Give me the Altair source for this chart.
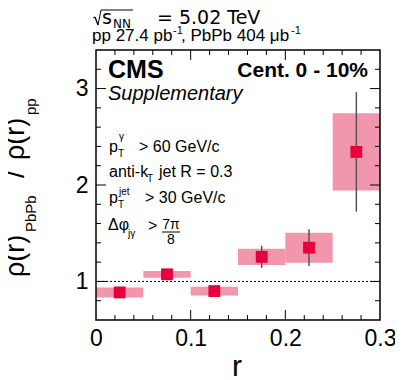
import altair as alt
import pandas as pd

# ---- data ----
r_low = [0.00, 0.05, 0.10, 0.15, 0.20, 0.25]
r_high = [0.05, 0.10, 0.15, 0.20, 0.25, 0.30]
r_center = [0.025, 0.075, 0.125, 0.175, 0.225, 0.275]
ratio = [0.886, 1.074, 0.900, 1.255, 1.350, 2.343]
stat_err = [0.015, 0.015, 0.015, 0.115, 0.190, 0.620]
sys_err = [0.052, 0.035, 0.045, 0.085, 0.155, 0.400]

x_tick_labels = [0.0, 0.1, 0.2, 0.3]
x_major = [0.1, 0.2]
x_minor = [0.02, 0.04, 0.06, 0.08, 0.12, 0.14, 0.16, 0.18, 0.22, 0.24, 0.26, 0.28]
y_major = [1, 2, 3]
y_minor = [0.8, 1.2, 1.4, 1.6, 1.8, 2.2, 2.4, 2.6, 2.8, 3.2]

W, H = 284, 270
OX, OY = 96, 50  # page position of plot origin
FONT = "Liberation Sans"
WIDE = "DejaVu Sans"
PINK = "#f296ae"
RED = "#e6003c"

df = pd.DataFrame({"lo": r_low, "hi": r_high, "r": r_center, "ratio": ratio,
                   "stat": stat_err, "sys": sys_err})
df["sys_lo"] = df["ratio"] - df["sys"]
df["sys_hi"] = df["ratio"] + df["sys"]
df["stat_lo"] = df["ratio"] - df["stat"]
df["stat_hi"] = df["ratio"] + df["stat"]

xs = alt.Scale(domain=[0, 0.3], nice=False, zero=False)
ys = alt.Scale(domain=[0.6, 3.4], nice=False, zero=False)
xaxis = alt.Axis(values=x_tick_labels, ticks=False, domain=False, grid=False, format="~g",
                 labelFontSize=23, labelFont=FONT, labelColor="black", labelPadding=7,
                 labelFlush=False, labelOverlap=False)
yaxis = alt.Axis(values=y_major, ticks=False, domain=False, grid=False,
                 labelFontSize=23, labelFont=FONT, labelColor="black", labelPadding=8,
                 labelOverlap=False)


def X(f):
    return alt.X(f, scale=xs, axis=xaxis, title=None)


def Y(f):
    return alt.Y(f, scale=ys, axis=yaxis, title=None)


layers = []
layers.append(alt.Chart(df).mark_rect(color=PINK).encode(
    x=X("lo:Q"), x2="hi:Q", y=Y("sys_lo:Q"), y2="sys_hi:Q"))
layers.append(alt.Chart(pd.DataFrame({"y": [1.0]})).mark_rule(
    color="black", strokeWidth=1, strokeDash=[2, 2]).encode(y=Y("y:Q")))
layers.append(alt.Chart(df).mark_rule(color="#555555", strokeWidth=1.5).encode(
    x=X("r:Q"), y=Y("stat_lo:Q"), y2="stat_hi:Q"))
layers.append(alt.Chart(df).mark_square(size=140, color=RED, opacity=1, filled=True).encode(
    x=X("r:Q"), y=Y("ratio:Q")))

# ticks (inward, mirrored on all four sides)
for vals, L in ((x_major, 10), (x_minor, 5)):
    d = pd.DataFrame({"x": vals})
    layers.append(alt.Chart(d).mark_rule(color="black", strokeWidth=1).encode(
        x=X("x:Q"), y=alt.value(H), y2=alt.value(H - L)))
    layers.append(alt.Chart(d).mark_rule(color="black", strokeWidth=1).encode(
        x=X("x:Q"), y=alt.value(0), y2=alt.value(L)))
for vals, L in ((y_major, 10), (y_minor, 5)):
    d = pd.DataFrame({"y": vals})
    layers.append(alt.Chart(d).mark_rule(color="black", strokeWidth=1).encode(
        y=Y("y:Q"), x=alt.value(0), x2=alt.value(L)))
    layers.append(alt.Chart(d).mark_rule(color="black", strokeWidth=1).encode(
        y=Y("y:Q"), x=alt.value(W), x2=alt.value(W - L)))

# frame
layers.append(alt.Chart(pd.DataFrame({"k": [0]})).mark_rect(
    filled=False, stroke="black", strokeWidth=1.5).encode(
    x=alt.value(0), x2=alt.value(W), y=alt.value(0), y2=alt.value(H)))

one = pd.DataFrame({"k": [0]})


def txt(s, px, py, size, align="left", weight="normal", style="normal", angle=0, font=FONT):
    return alt.Chart(one).mark_text(
        text=s, fontSize=size, font=font, align=align, baseline="alphabetic",
        fontWeight=weight, fontStyle=style, angle=angle, color="black").encode(
        x=alt.value(px - OX), y=alt.value(py - OY))


def seg(px1, py1, px2, py2, width=1.0):
    return alt.Chart(one).mark_rule(color="black", strokeWidth=width).encode(
        x=alt.value(px1 - OX), x2=alt.value(px2 - OX),
        y=alt.value(py1 - OY), y2=alt.value(py2 - OY))


texts = [
    # header line 1: sqrt(s_NN) = 5.02 TeV
    seg(93, 18, 95, 17),
    seg(95, 17, 98, 25, 1.3),
    seg(98, 25, 101, 10),
    seg(101, 10, 133, 10),
    txt("s", 102, 24, 19, font=WIDE),
    txt("NN", 113, 28, 12, font=WIDE),
    txt("= 5.02 TeV", 157, 24, 19, font=WIDE),
    # header line 2
    txt("pp 27.4 pb", 92, 41, 17),
    txt("-1", 173, 34, 11),
    txt(", PbPb 404 μb", 181, 41, 17),
    txt("-1", 291, 34, 11),
    # CMS labels
    txt("CMS", 108, 78, 25, weight="bold"),
    txt("Supplementary", 108, 100, 20, style="italic"),
    txt("Cent. 0 - 10%", 368, 77, 21, align="right", weight="bold"),
    # selection block
    txt("p", 109, 152, 16),
    txt("γ", 119, 140, 10),
    txt("T", 118, 157, 10),
    txt("> 60 GeV/c", 139, 152, 16),
    txt("anti-k", 109, 177, 16),
    txt("T", 147, 182, 10),
    txt("jet R = 0.3", 159, 177, 16),
    txt("p", 109, 203, 16),
    txt("jet", 119, 195, 10),
    txt("T", 118, 208, 10),
    txt("> 30 GeV/c", 145, 203, 16),
    txt("Δφ", 108, 230, 16),
    txt("jγ", 128, 237, 10),
    txt(">", 148, 231, 16),
    txt("7π", 171, 229, 14, align="center"),
    seg(162, 232, 180, 232),
    txt("8", 171, 244, 14, align="center"),
    # axis titles
    txt("r", 237, 376, 30, align="center"),
    txt("ρ(r)", 24, 277, 27, angle=270),
    txt("PbPb", 36, 232, 15, angle=270),
    txt("/", 24, 178, 27, angle=270),
    txt("ρ(r)", 24, 160, 27, angle=270),
    txt("pp", 36, 115, 15, angle=270),
]

chart = alt.layer(*layers, *texts).properties(
    width=W, height=H,
    padding={"left": OX - 8, "top": OY - 8, "right": 15, "bottom": 60},
    autosize=alt.AutoSizeParams(type="none"),
).configure_view(strokeWidth=0)

chart.save("out.html", embed_options={"renderer": "svg", "actions": False})
